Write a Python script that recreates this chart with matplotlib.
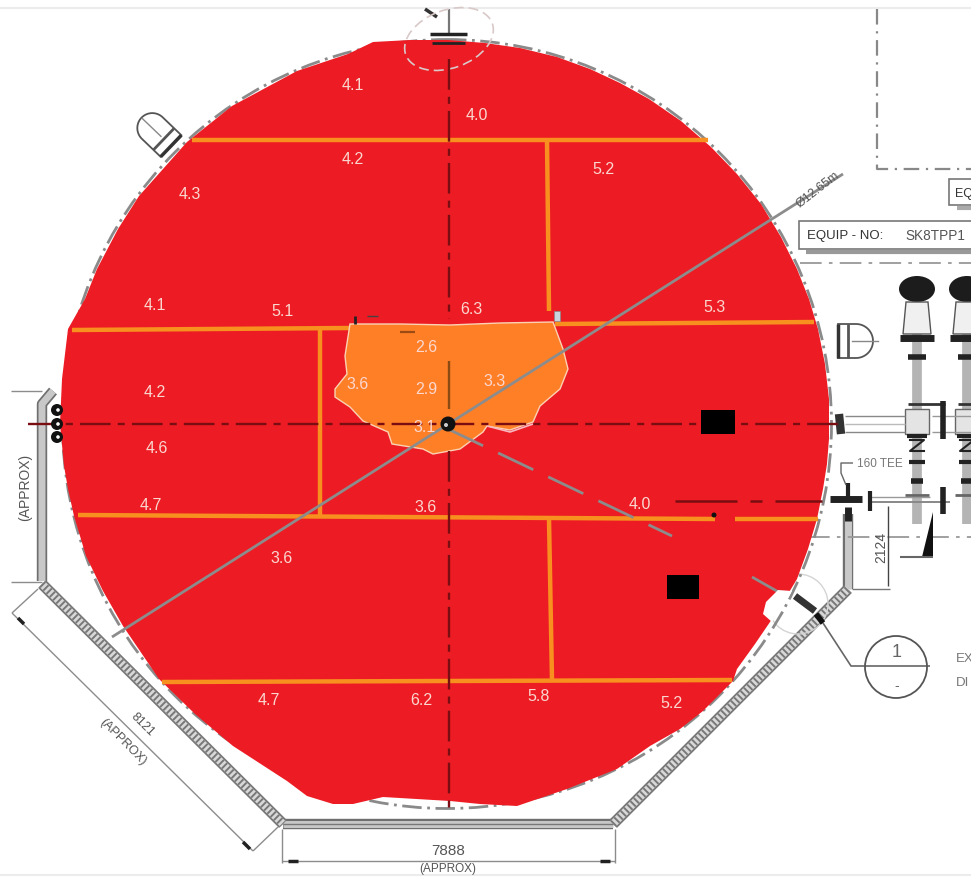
"""Tank floor thickness map: red plate outline, orange zones, readings over the drawing."""
import numpy as np
import matplotlib
matplotlib.use("Agg")
import matplotlib.pyplot as plt
from matplotlib.patches import Polygon, Circle, Rectangle, Ellipse

RED = "#ed1c24"
ORANGE = "#ff7f27"
SEAM = "#f7901e"
GREY = "#8c8c8c"
DARK = "#3a3a3a"
PALE = "#fad7cf"
CENTRE = "#7a0d12"

# tank floor outline, clockwise from the top
tank_x = [448, 485, 520, 557, 590, 620, 649, 681, 711, 737, 761, 781, 797, 809, 818, 825, 829, 829, 827, 823, 817, 808,
          797, 785, 770, 755, 737, 733, 703, 680, 650, 617, 567, 517, 480, 450, 383, 353, 333, 307, 287, 250, 233, 195, 159,
          123, 103, 86, 74, 68, 64, 60, 62, 68, 85, 97, 118, 139, 187, 232, 297, 348, 373, 410]
tank_y = [41, 44, 49, 58, 70, 84, 100, 122, 148, 175, 205, 238, 270, 300, 330, 365, 400, 440, 465, 490, 520, 550,
          580, 600, 623, 645, 670, 682, 712, 730, 747, 770, 790, 807, 805, 802, 798, 805, 805, 797, 782, 758, 747, 715, 680,
          627, 592, 557, 517, 490, 467, 425, 380, 330, 300, 270, 230, 197, 143, 107, 72, 55, 43, 41]

# orange corroded patch
patch_x = [350, 400, 450, 500, 553, 563, 568, 560, 540, 533, 510, 487, 483, 460, 433, 423, 392, 388, 363, 350, 335, 335,
           347, 345]
patch_y = [325, 325, 326, 324, 323, 350, 370, 390, 407, 423, 431, 427, 433, 450, 455, 450, 445, 433, 422, 408, 398, 390,
           375, 357]

# weld seams: (x0, y0, x1, y1)
seam_segs = [(192, 141, 708, 141), (72, 331, 350, 329), (555, 325, 814, 323), (78, 516, 715, 520), (735, 520, 818, 520),
             (162, 683, 732, 681), (547, 141, 549, 312), (320, 331, 320, 516), (549, 520, 552, 681)]

# thickness readings
read_x = [353, 477, 353, 603, 190, 155, 283, 471, 715, 426, 358, 426, 495, 425, 155, 157, 151, 426, 640, 282, 269, 421, 539, 671]
read_y = [86, 115, 159, 170, 195, 306, 312, 310, 308, 348, 385, 390, 382, 428, 393, 449, 506, 508, 505, 559, 701, 701, 697, 704]
read_txt = ["4.1", "4.0", "4.2", "5.2", "4.3", "4.1", "5.1", "6.3", "5.3", "2.6", "3.6", "2.9", "3.3", "3.1", "4.2",
            "4.6", "4.7", "3.6", "4.0", "3.6", "4.7", "6.2", "5.8", "5.2"]

# black marker squares: left, top, width, height
mark_boxes = [(701, 411, 34, 24), (667, 576, 32, 24)]

# ring main, vertices along the pipe
ring_left_x, ring_left_y = [53, 42, 42], [392, 405, 582]
ring_diag1_x, ring_diag1_y = [42, 283], [585, 825]
ring_base_x, ring_base_y = [283, 613], [825, 825]
ring_diag2_x, ring_diag2_y = [613, 848], [825, 590]
ring_right_x, ring_right_y = [848, 848], [590, 515]

equip_title = "EQUIP - NO:"
equip_no = "SK8TPP1"
dia_label = "Ø12.65m"
tee_label = "160 TEE"
dim_bottom = "7888"
dim_diag = "8121"
dim_right = "2124"
approx = "(APPROX)"
note_lines = ["EX", "DI"]
callout = ["1", "-"]

plt.rcParams["font.family"] = ["Liberation Sans", "DejaVu Sans"]
fig = plt.figure(figsize=(9.71, 8.78), dpi=100)
ax = fig.add_axes([0, 0, 1, 1])
ax.set_xlim(0, 971)
ax.set_ylim(878, 0)
ax.axis("off")


def line(x, y, color=DARK, lw=1.0, ls="-", z=2, **kw):
    ax.plot(x, y, color=color, lw=lw, ls=ls, zorder=z, solid_capstyle="butt", **kw)


def label(x, y, s, size=9, color="#555555", rot=0, ha="center", z=9):
    ax.text(x, y, s, rotation=rot, rotation_mode="anchor", ha=ha, va="center", fontsize=size, color=color, zorder=z)


def dome(bx, by, ax_x, ax_y, half=15, length=26):
    # U shaped nozzle cover, base centre (bx, by), pointing along (ax_x, ax_y)
    nx, ny = -ax_y, ax_x
    t = np.radians(np.linspace(-90, 90, 40))
    u = length + half * np.cos(t)
    v = half * np.sin(t)
    xs = np.r_[bx + half * nx * -1, bx + u * ax_x + v * nx, bx + half * nx]
    ys = np.r_[by + half * ny * -1, by + u * ax_y + v * ny, by + half * ny]
    ax.plot(xs, ys, color="#555555", lw=1.3, zorder=2)
    ax.plot([bx - half * nx, bx + half * nx], [by - half * ny, by + half * ny], color="#333333", lw=2.5, zorder=2,
            solid_capstyle="butt")
    off = 10
    ax.plot([bx + off * ax_x - half * nx, bx + off * ax_x + half * nx], [by + off * ax_y - half * ny, by + off * ax_y + half * ny],
            color="#555555", lw=2, zorder=2, solid_capstyle="butt")
    ax.plot([bx + 14 * ax_x, bx + 40 * ax_x], [by + 14 * ax_y, by + 40 * ax_y], color="#888888", lw=1, zorder=2)


# frame edges of the scanned page
line([0, 971], [9, 9], color="#ececec", lw=1.5)
line([0, 971], [876, 876], color="#ececec", lw=1.5)

# ring pipe: grey band with dark edges, diagonals hatched
for px, py in [(ring_left_x, ring_left_y), (ring_right_x, ring_right_y), (ring_base_x, ring_base_y)]:
    line(px, py, color="#6f6f6f", lw=7.5, z=1)
    line(px, py, color="#c8c8c8", lw=5, z=1.1)
line(ring_base_x, ring_base_y, color="#777777", lw=1, z=1.2)
for px, py in [(ring_diag1_x, ring_diag1_y), (ring_diag2_x, ring_diag2_y)]:
    line(px, py, color="#777777", lw=8, z=1)
    line(px, py, color="#d8d8d8", lw=5.5, z=1.1)
    ax.plot(px, py, color="#777777", lw=5.5, ls=(0, (0.25, 0.35)), zorder=1.2)

# tank plate, dashed shell on its edge
ax.add_patch(Polygon(np.column_stack([tank_x, tank_y]), closed=True, fc=RED, ec="none", zorder=3))
ax.add_patch(Circle((447, 425), 384.5, fc="none", ec="#8a8a8a", lw=2, ls=(0, (7, 2, 1, 2)), zorder=2.5))

# dimensions, lower left and bottom
line([11, 42], [392, 392], color=GREY)
line([11, 42], [583, 583], color=GREY)
line([12, 38], [614, 590], color=GREY)
line([12, 253], [614, 852], color=GREY)
line([253, 278], [852, 828], color=GREY)
line([282, 282], [830, 864], color=GREY)
line([615, 615], [830, 864], color=GREY)
line([282, 615], [862, 862], color=GREY)
line([288, 298], [862, 862], color="#222222", lw=2.5)
line([600, 610], [862, 862], color="#222222", lw=2.5)
line([18, 24], [619, 625], color="#222222", lw=2.5)
line([243, 250], [843, 850], color="#222222", lw=2.5)
label(25, 487, approx, size=10, rot=90)
label(142, 725, dim_diag, size=9, rot=-45)
label(123, 742, approx, size=9, rot=-45)
label(448, 851, dim_bottom, size=11)
label(448, 869, approx, size=8.5)

# nozzles on the shell
dome(171, 147, -0.72, -0.69)
dome(838, 342, 1, 0, half=17, length=18)
ax.add_patch(Ellipse((449, 40), 92, 58, angle=-20, fc="none", ec="#d9c9c9", lw=1.2, ls=(0, (6, 3)), zorder=4))
line([430, 467], [35, 35], color="#222222", lw=2.5, z=5)
line([432, 465], [44, 44], color="#222222", lw=2, z=5)
line([449, 449], [10, 36], color="#777777", lw=1.6, z=2)
line([425, 437], [10, 18], color="#333333", lw=2.5, z=2)
for cy in (411, 425, 438):
    ax.add_patch(Circle((57, cy), 6, fc="#111111", ec="none", zorder=7))
    ax.add_patch(Circle((58, cy), 1.8, fc="white", ec="none", zorder=7.1))

# seams
for x0, y0, x1, y1 in seam_segs:
    line([x0, x1], [y0, y1], color=SEAM, lw=3.2, z=4)

# orange patch with its pale edge
ax.add_patch(Polygon(np.column_stack([patch_x, patch_y]), closed=True, fc=ORANGE, ec="#fbd3b4", lw=1, zorder=5))
line([487, 510, 533], [427, 433, 425], color="#f9b8c0", lw=1.2, z=5)

# centre lines and leader lines through the plate
ax.plot([28, 840], [425, 425], color=CENTRE, lw=1.7, ls=(0, (13, 3, 3, 3)), zorder=6)
ax.plot([449, 449], [60, 320], color=CENTRE, lw=1.7, ls=(0, (13, 3, 3, 3)), zorder=6)
line([449, 449], [362, 410], color="#8a4a12", lw=1.7, z=6)
ax.plot([449, 449], [452, 815], color=CENTRE, lw=1.7, ls=(0, (13, 3, 3, 3)), zorder=6)
line([112, 843], [638, 175], color=GREY, lw=2, z=6)
ax.plot([448, 672], [430, 537], color=GREY, lw=2, ls=(0, (14, 6)), zorder=6)
line([752, 782], [578, 595], color=GREY, lw=2, z=6)
line([675, 737], [502, 502], color=CENTRE, lw=1.8, z=6)
line([750, 762], [502, 502], color=CENTRE, lw=1.8, z=6)
line([775, 822], [502, 502], color=CENTRE, lw=1.8, z=6)
ax.add_patch(Circle((448, 425), 7.5, fc="#111111", ec="none", zorder=7))
ax.add_patch(Circle((446, 426), 2, fc="#cccccc", ec="none", zorder=7.1))
ax.add_patch(Circle((714, 516), 2.5, fc="#111111", ec="none", zorder=7))
line([355, 355], [317, 325], color="#222222", lw=2, z=7)
line([367, 378], [317, 317], color="#444444", lw=1, z=7)
line([400, 415], [333, 333], color="#9a4a12", lw=1.6, z=7)
ax.add_patch(Rectangle((554, 312), 6, 10, fc="#c9d3dd", ec="#888888", lw=0.5, zorder=7))

for x, y, s in zip(read_x, read_y, read_txt):
    ax.text(x, y, s, ha="center", va="center", fontsize=11.5, color=PALE, zorder=8)

for x, y, w, h in mark_boxes:
    ax.add_patch(Rectangle((x, y), w, h, fc="black", ec="none", zorder=8))

# white bite near the lower right with its valve
ax.add_patch(Polygon([(763, 615), (766, 603), (778, 591), (792, 592), (785, 605), (772, 623)], closed=True, fc="white",
                     ec="none", zorder=8))
line([795, 815], [597, 612], color="#333333", lw=5, z=9)
ax.add_patch(Circle((798, 605), 30, fc="none", ec="#d4d4d4", lw=1, zorder=2))
line([816, 823], [615, 624], color="#111111", lw=4, z=9)

# dashed boundary and equipment boxes, upper right
ax.plot([877, 877, 971], [10, 170, 170], color="#888888", lw=1.6, ls=(0, (7, 3, 1, 3)), zorder=2)
ax.plot([800, 971], [264, 264], color="#999999", lw=1.3, ls=(0, (12, 4, 2, 4)), zorder=2)
ax.plot([808, 971], [538, 538], color="#999999", lw=1.3, ls=(0, (12, 4, 2, 4)), zorder=2)
ax.add_patch(Rectangle((799, 222), 180, 28, fc="white", ec="#777777", lw=1.2, zorder=2))
line([806, 971], [253, 253], color="#999999", lw=3)
ax.add_patch(Rectangle((949, 180), 40, 26, fc="white", ec="#777777", lw=1.2, zorder=2))
line([957, 971], [209, 209], color="#aaaaaa", lw=3)
label(955, 194, "EQ", size=9, color="#333333", ha="left")
label(807, 236, equip_title, size=9.5, color="#333333", ha="left")
label(905, 236, equip_no, size=9.8, color="#555555", ha="left")
label(818, 190, dia_label, size=9, rot=38)

# pipework columns on the right
for cx in (917, 967):
    line([cx, cx], [300, 525], color="#b4b4b4", lw=7, z=1)
    ax.add_patch(Ellipse((cx, 290), 36, 26, fc="#1c1c1c", ec="none", zorder=2))
    ax.add_patch(Polygon([(cx - 11, 303), (cx + 11, 303), (cx + 14, 335), (cx - 14, 335)], closed=True, fc="#f0f0f0",
                         ec="#555555", lw=1, zorder=2))
    line([cx - 17, cx + 17], [339, 339], color="#222222", lw=5)
    line([cx - 9, cx + 9], [358, 358], color="#222222", lw=4)
    line([cx - 9, cx + 28], [405, 405], color="#333333", lw=2)
    ax.add_patch(Rectangle((cx - 12, 410), 24, 25, fc="#e4e4e4", ec="#666666", lw=1, zorder=2))
    line([cx - 10, cx + 10], [437, 437], color="#222222", lw=3)
    ax.plot([cx - 7, cx + 7, cx - 7, cx + 7], [441, 441, 452, 452], color="#222222", lw=1.5, zorder=2)
    line([cx - 8, cx + 8], [463, 463], color="#222222", lw=3)
    line([cx - 6, cx + 6], [482, 482], color="#222222", lw=4)
    line([cx - 12, cx + 12], [496, 496], color="#666666", lw=2)
line([845, 905], [417, 417], color="#888888", lw=1)
line([845, 905], [433, 433], color="#888888", lw=1)
line([845, 905], [425, 425], color="#bbbbbb", lw=1)
line([932, 971], [417, 417], color="#999999", lw=1)
line([932, 971], [433, 433], color="#999999", lw=1)
line([839, 841], [415, 435], color="#333333", lw=6)
line([943, 943], [402, 440], color="#222222", lw=4)
line([870, 930], [498, 498], color="#999999", lw=1)
line([870, 950], [503, 503], color="#888888", lw=1.4)
line([943, 943], [488, 515], color="#222222", lw=4)
line([870, 870], [492, 512], color="#222222", lw=3)
ax.add_patch(Polygon([(922, 558), (933, 558), (933, 513)], closed=True, fc="#111111", ec="none", zorder=2))
line([900, 933], [558, 558], color="#666666", lw=1.5)

# TEE and dimension on the lower right
line([830, 862], [500, 500], color="#222222", lw=5)
line([848, 848], [484, 498], color="#222222", lw=3)
line([848, 848], [508, 522], color="#222222", lw=5)
line([853, 841, 841, 846], [464, 464, 474, 486], color="#666666", lw=1)
label(880, 464, tee_label, size=8.5, color="#777777")
line([888, 888], [507, 587], color="#444444", lw=1)
line([852, 890], [590, 590], color="#777777", lw=1)
label(881, 547, dim_right, size=10, rot=90)

# callout balloon
line([823, 851, 930], [624, 667, 667], color="#666666", lw=1.2)
ax.add_patch(Circle((896, 668), 31, fc="none", ec="#555555", lw=1.3, zorder=2))
label(897, 653, callout[0], size=13, color="#666666")
label(897, 686, callout[1], size=10, color="#666666")
label(956, 659, note_lines[0], size=9.5, color="#777777", ha="left")
label(956, 683, note_lines[1], size=9.5, color="#777777", ha="left")

fig.savefig("out.png", dpi=100)
